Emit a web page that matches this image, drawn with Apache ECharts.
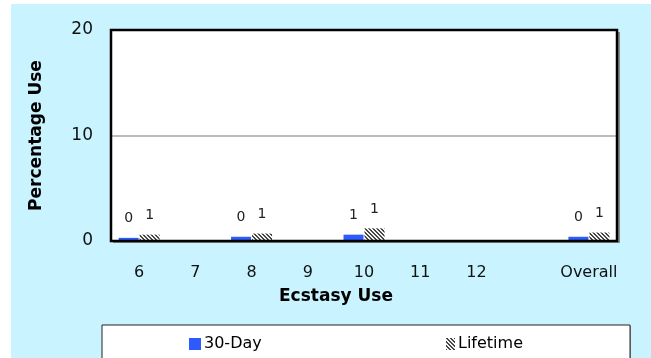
<!DOCTYPE html>
<html>
<head>
<meta charset="utf-8">
<script src="https://cdn.jsdelivr.net/npm/echarts@6/dist/echarts.min.js"></script>
<style>
  html, body { margin: 0; padding: 0; background: #ffffff; }
  #chart { width: 651px; height: 358px; }
</style>
</head>
<body>
<div id="chart"></div>
<script>
// Grades surveyed, with a spacer slot before the overall figure
const categories = ['6', '7', '8', '9', '10', '11', '12', '', 'Overall'];
// Percentage of students reporting ecstasy use
const thirtyDay = [0.3, null, 0.4, null, 0.6, null, null, null, 0.4];
const lifetime = [0.6, null, 0.7, null, 1.2, null, null, null, 0.8];
const yTicks = [0, 10, 20];

const FONT = 'DejaVu Sans';

// Diagonal hatch tile used for the lifetime bars
function hatchTile() {
  const c = document.createElement('canvas');
  c.width = 4; c.height = 4;
  const ctx = c.getContext('2d');
  const img = ctx.createImageData(4, 4);
  for (let y = 0; y < 4; y++) {
    for (let x = 0; x < 4; x++) {
      const on = ((x - y + 8) % 4) < 2;
      const i = (y * 4 + x) * 4;
      const v = on ? 70 : 245;
      img.data[i] = v; img.data[i + 1] = v; img.data[i + 2] = v; img.data[i + 3] = 255;
    }
  }
  ctx.putImageData(img, 0, 0);
  return c;
}

const roundLabel = p => Math.round(p.value);

const chart = echarts.init(document.getElementById('chart'), null, { renderer: 'canvas' });
chart.setOption({
  animation: false,
  backgroundColor: '#ffffff',
  textStyle: { fontFamily: FONT },
  graphic: [
    { type: 'rect', z: -10, shape: { x: 11, y: 4, width: 640, height: 354 }, style: { fill: '#C8F3FF' } },
    // drop shadow behind the plot frame
    { type: 'rect', z: -5, shape: { x: 113, y: 32, width: 507, height: 211 }, style: { fill: '#8a8a8a' } },
    // plot frame drawn over the grid lines
    { type: 'rect', z: 10, shape: { x: 111, y: 30, width: 506, height: 211 },
      style: { fill: 'none', stroke: '#000000', lineWidth: 2.5 } },
    { type: 'rect', z: 1, shape: { x: 103, y: 326, width: 528, height: 40 }, style: { fill: '#999999' } },
    { type: 'rect', z: 1, shape: { x: 102, y: 325, width: 528, height: 40 },
      style: { fill: '#ffffff', stroke: '#222222', lineWidth: 1 } },
    { type: 'text', z: 5, x: 336, y: 297,
      style: { text: 'Ecstasy Use', fill: '#000', font: 'bold 17px "' + FONT + '"', align: 'center', verticalAlign: 'middle' } }
  ],
  grid: {
    left: 111, top: 30, right: 34, bottom: 117,
    show: true, backgroundColor: '#ffffff', borderWidth: 0
  },
  legend: [
    { left: 184, top: 331, itemWidth: 12, itemHeight: 12, itemGap: 0, icon: 'rect', data: ['30-Day'],
      textStyle: { fontSize: 16, color: '#000', fontFamily: FONT, padding: [0, 0, 0, -2] } },
    { left: 441, top: 331, itemWidth: 9, itemHeight: 12, itemGap: 0, icon: 'rect', data: ['Lifetime'],
      textStyle: { fontSize: 16, color: '#000', fontFamily: FONT, padding: [0, 0, 0, -2] } }
  ],
  xAxis: {
    type: 'category', data: categories,
    axisLine: { show: false }, axisTick: { show: false },
    axisLabel: { fontSize: 16, color: '#111', margin: 24, interval: 0 }
  },
  yAxis: {
    type: 'value', min: 0, max: 20, interval: 10,
    name: 'Percentage Use', nameLocation: 'middle', nameGap: 66,
    nameTextStyle: { fontSize: 17, fontWeight: 'bold', color: '#000' },
    axisLine: { show: false }, axisTick: { show: false },
    axisLabel: { fontSize: 17, color: '#111', margin: 18, formatter: v => yTicks.includes(v) ? String(v) : '' },
    splitLine: { lineStyle: { color: '#BBBBBB', width: 2 } }
  },
  series: [
    {
      name: '30-Day', type: 'bar', data: thirtyDay, barWidth: 20, barGap: '5%',
      itemStyle: { color: '#2E5BFF' },
      label: { show: true, position: 'top', distance: 12, fontSize: 14, color: '#222', formatter: roundLabel }
    },
    {
      name: 'Lifetime', type: 'bar', data: lifetime, barWidth: 20,
      itemStyle: { color: { image: hatchTile(), repeat: 'repeat' } },
      label: { show: true, position: 'top', distance: 12, fontSize: 14, color: '#222', formatter: roundLabel }
    }
  ]
});
</script>
</body>
</html>
